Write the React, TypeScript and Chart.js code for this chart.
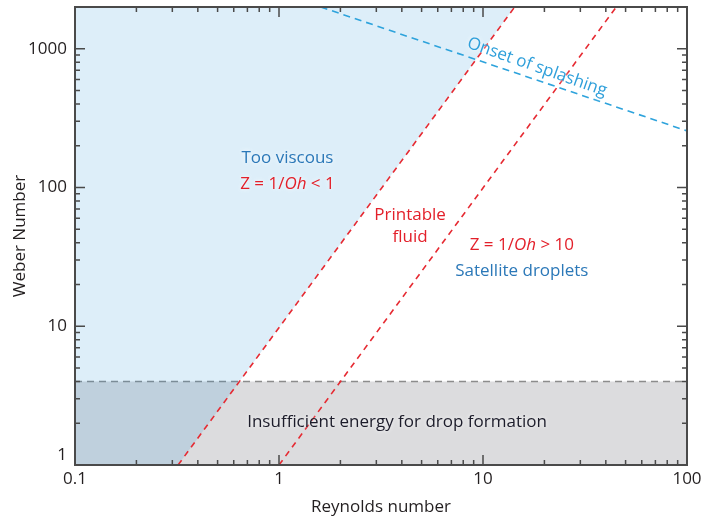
import React, { useEffect, useRef } from "react";
import { Chart, registerables } from "chart.js";

Chart.register(...registerables);

// ---- data ----
const xMajorTicks = [0.1, 1, 10, 100];
const yMajorTicks = [1, 10, 100, 1000];
const xMinorTicks = [0.2, 0.3, 0.4, 0.5, 0.6, 0.7, 0.8, 0.9, 2, 3, 4, 5, 6, 7, 8, 9, 20, 30, 40, 50, 60, 70, 80, 90];
const yMinorTicks = [2, 3, 4, 5, 6, 7, 8, 9, 20, 30, 40, 50, 60, 70, 80, 90, 200, 300, 400, 500, 600, 700, 800, 900, 2000];

// Z = 1/Oh boundary lines (Reynolds, Weber)
const zLowRe = [0.32, 14.3];
const zLowWe = [1, 2000];
const zHighRe = [1.0, 45];
const zHighWe = [1, 2000];
// Onset of splashing
const splashRe = [1.6, 100];
const splashWe = [2000, 256];
// Insufficient energy threshold
const energyRe = [0.1, 100];
const energyWe = [4, 4];
// too-viscous region boundary (left of low-Z line)
const viscousRe = [0.1, 0.32, 14.3];
const viscousWe = [1, 1, 2000];

const xRange = [0.1, 100];
const yRange = [1, 2000];

type Part = { t: string; italic?: boolean };
type Note = { parts: Part[]; re: number; we: number; color: string; rot?: number; size?: number };

const notes: Note[] = [
  { parts: [{ t: "Too viscous" }], re: 1.1, we: 163, color: "#2b78b8" },
  { parts: [{ t: "Z = 1/" }, { t: "Oh", italic: true }, { t: " < 1" }], re: 1.1, we: 106, color: "#e3202a" },
  { parts: [{ t: "Printable" }], re: 4.39, we: 63, color: "#e3202a" },
  { parts: [{ t: "fluid" }], re: 4.39, we: 44, color: "#e3202a" },
  { parts: [{ t: "Z = 1/" }, { t: "Oh", italic: true }, { t: " > 10" }], re: 15.5, we: 38.5, color: "#e3202a" },
  { parts: [{ t: "Satellite droplets" }], re: 15.5, we: 25, color: "#2b78b8" },
  { parts: [{ t: "Onset of splashing" }], re: 18.4, we: 738, color: "#2e9fda", rot: 19.5 },
  { parts: [{ t: "Insufficient energy for drop formation" }], re: 3.79, we: 2.04, color: "#1c1c2a" },
];

const FONT = "'Open Sans', 'Noto Sans', sans-serif";
const toPts = (xs: number[], ys: number[]) => xs.map((x, i) => ({ x, y: ys[i] }));

const framePlugin = {
  id: "frame",
  afterDatasetsDraw(chart: any) {
    const { ctx, chartArea: a } = chart;
    const xs = chart.scales.x;
    const ys = chart.scales.y;
    ctx.save();
    // notes
    for (const n of notes) {
      const size = n.size || 17;
      const px = xs.getPixelForValue(n.re);
      const py = ys.getPixelForValue(n.we);
      const fonts = n.parts.map((p) => `${p.italic ? "italic " : ""}${size}px ${FONT}`);
      let total = 0;
      const widths = n.parts.map((p, i) => {
        ctx.font = fonts[i];
        const w = ctx.measureText(p.t).width;
        total += w;
        return w;
      });
      ctx.save();
      ctx.translate(px, py);
      if (n.rot) ctx.rotate((n.rot * Math.PI) / 180);
      ctx.textBaseline = "middle";
      ctx.textAlign = "left";
      ctx.fillStyle = n.color;
      ctx.shadowColor = "rgba(255,255,255,0.95)";
      ctx.shadowBlur = 4;
      let cx = -total / 2;
      n.parts.forEach((p, i) => {
        ctx.font = fonts[i];
        ctx.fillText(p.t, cx, 0);
        cx += widths[i];
      });
      ctx.restore();
    }
    // ticks
    ctx.strokeStyle = "#4a4a4a";
    ctx.lineWidth = 1.5;
    const tick = (vals: number[], len: number) => {
      for (const v of vals) {
        const x = xs.getPixelForValue(v);
        if (x > a.left + 1 && x < a.right - 1) {
          ctx.beginPath();
          ctx.moveTo(x, a.bottom);
          ctx.lineTo(x, a.bottom - len);
          ctx.moveTo(x, a.top);
          ctx.lineTo(x, a.top + len);
          ctx.stroke();
        }
      }
    };
    const tickY = (vals: number[], len: number) => {
      for (const v of vals) {
        const y = ys.getPixelForValue(v);
        if (y > a.top + 1 && y < a.bottom - 1) {
          ctx.beginPath();
          ctx.moveTo(a.left, y);
          ctx.lineTo(a.left + len, y);
          ctx.moveTo(a.right, y);
          ctx.lineTo(a.right - len, y);
          ctx.stroke();
        }
      }
    };
    tick(xMajorTicks, 10);
    tick(xMinorTicks, 5);
    tickY(yMajorTicks, 10);
    tickY(yMinorTicks, 5);
    // frame
    ctx.lineWidth = 2;
    ctx.strokeRect(a.left, a.top, a.right - a.left, a.bottom - a.top);
    ctx.restore();
  },
};

export default function App() {
  const ref = useRef<HTMLCanvasElement>(null);
  useEffect(() => {
    if (!ref.current) return;
    const dashed = { pointRadius: 0, showLine: true, fill: false, borderWidth: 1.6 };
    const chart = new Chart(ref.current, {
      type: "scatter",
      data: {
        datasets: [
          {
            ...dashed,
            data: toPts(zLowRe, zLowWe),
            borderColor: "#e62a32",
            borderDash: [6, 5],
            order: 1,
          },
          {
            ...dashed,
            data: toPts(zHighRe, zHighWe),
            borderColor: "#e62a32",
            borderDash: [6, 5],
            order: 1,
          },
          {
            ...dashed,
            data: toPts(splashRe, splashWe),
            borderColor: "#2ea3dc",
            borderDash: [7, 5],
            order: 1,
          },
          {
            data: toPts(viscousRe, viscousWe),
            pointRadius: 0,
            showLine: true,
            borderWidth: 0,
            borderColor: "rgba(0,0,0,0)",
            backgroundColor: "rgba(28,141,215,0.15)",
            fill: "end",
            order: 4,
          },
          {
            data: toPts(energyRe, energyWe),
            pointRadius: 0,
            showLine: true,
            borderWidth: 1.6,
            borderColor: "#8c8c8c",
            borderDash: [7, 5],
            backgroundColor: "#dcdcde",
            fill: "start",
            order: 5,
          },
        ] as any,
      },
      options: {
        animation: false,
        responsive: false,
        maintainAspectRatio: false,
        layout: { padding: { left: 0, right: 14, top: 7, bottom: 0 } },
        plugins: { legend: { display: false }, tooltip: { enabled: false } },
        scales: {
          x: {
            type: "logarithmic",
            position: "bottom",
            min: xRange[0],
            max: xRange[1],
            grid: { display: false, drawTicks: false },
            border: { display: false },
            afterBuildTicks: (s: any) => {
              s.ticks = xMajorTicks.map((v) => ({ value: v }));
            },
            afterFit: (s: any) => {
              s.height = 52;
              s.paddingLeft = 0;
              s.paddingRight = 0;
              s.paddingTop = 0;
              s.paddingBottom = 0;
            },
            ticks: {
              autoSkip: false,
              maxRotation: 0,
              padding: 4,
              color: "#231f20",
              font: { family: FONT, size: 17 },
              callback: (v: any) => String(v),
            },
            title: {
              display: true,
              text: "Reynolds number",
              color: "#231f20",
              font: { family: FONT, size: 17 },
              padding: { top: 0, bottom: 0 },
            },
          },
          y: {
            type: "logarithmic",
            position: "left",
            min: yRange[0],
            max: yRange[1],
            grid: { display: false, drawTicks: false },
            border: { display: false },
            afterBuildTicks: (s: any) => {
              s.ticks = yMajorTicks.map((v) => ({ value: v }));
            },
            afterFit: (s: any) => {
              s.width = 75;
              s.paddingLeft = 0;
              s.paddingRight = 0;
              s.paddingTop = 0;
              s.paddingBottom = 0;
            },
            ticks: {
              autoSkip: false,
              padding: 8,
              color: "#231f20",
              font: { family: FONT, size: 17 },
              callback: (v: any) => (v === 1 ? ["1", ""] : String(v)),
            },
            title: {
              display: true,
              text: "Weber Number",
              color: "#231f20",
              font: { family: FONT, size: 17 },
              padding: { top: 10, bottom: 0 },
            },
          },
        },
      } as any,
      plugins: [framePlugin],
    });
    return () => chart.destroy();
  }, []);
  return (
    <div style={{ position: "fixed", left: 0, top: 0, width: 701, height: 517, background: "#fff" }}>
      <canvas ref={ref} width={701} height={517} style={{ width: 701, height: 517 }} />
    </div>
  );
}
